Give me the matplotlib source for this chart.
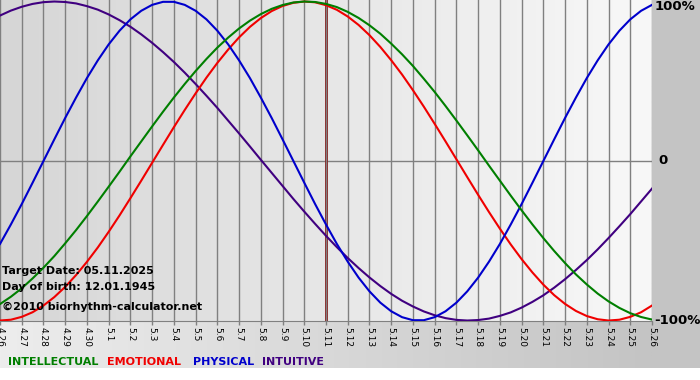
import numpy as np
import matplotlib
matplotlib.use('Agg')
import matplotlib.pyplot as plt
from matplotlib.colors import LinearSegmentedColormap
from matplotlib.patches import Rectangle

# dates shown on the x axis (one per day)
dates = ['4.26', '4.27', '4.28', '4.29', '4.30'] + ['5.%d' % i for i in range(1, 27)]
target_idx = 15  # 5.11

# biorhythm values in %, every half day (day 0 = 4.26)
sample_days = [i / 2 for i in range(61)]
intellectual = [-89.7, -85.1, -79.8, -73.6, -66.9, -59.6, -51.6, -43.3, -34.5, -25.4,
                -16.1, -6.7, 2.9, 12.3, 21.7, 30.9, 39.8, 48.3, 56.4, 64.0,
                71.1, 77.4, 83.1, 88.0, 92.1, 95.4, 97.8, 99.4, 100.0, 99.7,
                98.5, 96.5, 93.5, 89.7, 85.1, 79.8, 73.6, 66.9, 59.6, 51.6,
                43.3, 34.5, 25.4, 16.1, 6.7, -2.9, -12.3, -21.7, -30.9, -39.8,
                -48.3, -56.4, -64.0, -71.1, -77.4, -83.1, -88.0, -92.1, -95.4, -97.8,
                -99.4]
emotional = [-100.0, -99.5, -97.7, -94.8, -90.6, -85.3, -78.9, -71.5, -63.2, -54.2,
             -44.4, -34.1, -23.3, -12.3, -1.1, 10.1, 21.2, 32.0, 42.4, 52.3,
             61.5, 69.9, 77.5, 84.1, 89.6, 94.0, 97.2, 99.2, 100.0, 99.5,
             97.7, 94.8, 90.6, 85.3, 78.9, 71.5, 63.2, 54.2, 44.4, 34.1,
             23.3, 12.3, 1.1, -10.1, -21.2, -32.0, -42.4, -52.3, -61.5, -69.9,
             -77.5, -84.1, -89.6, -94.0, -97.2, -99.2, -100.0, -99.5, -97.7, -94.8,
             -90.6]
physical = [-52.0, -39.8, -27.0, -13.6, 0.0, 13.6, 27.0, 39.8, 52.0, 63.1,
            73.1, 81.7, 88.8, 94.2, 97.9, 99.8, 99.8, 97.9, 94.2, 88.8,
            81.7, 73.1, 63.1, 52.0, 39.8, 27.0, 13.6, 0.0, -13.6, -27.0,
            -39.8, -52.0, -63.1, -73.1, -81.7, -88.8, -94.2, -97.9, -99.8, -99.8,
            -97.9, -94.2, -88.8, -81.7, -73.1, -63.1, -52.0, -39.8, -27.0, -13.6,
            0.0, 13.6, 27.0, 39.8, 52.0, 63.1, 73.1, 81.7, 88.8, 94.2,
            97.9]
intuitive = [91.2, 94.3, 96.7, 98.5, 99.6, 100.0, 99.7, 98.8, 97.1, 94.9,
             91.9, 88.3, 84.2, 79.4, 74.1, 68.3, 62.1, 55.4, 48.3, 40.9,
             33.3, 25.3, 17.3, 9.1, 0.8, -7.4, -15.6, -23.8, -31.7, -39.4,
             -46.9, -54.0, -60.8, -67.1, -73.0, -78.4, -83.3, -87.6, -91.2, -94.3,
             -96.7, -98.5, -99.6, -100.0, -99.7, -98.8, -97.1, -94.9, -91.9, -88.3,
             -84.2, -79.4, -74.1, -68.3, -62.1, -55.4, -48.3, -40.9, -33.3, -25.3,
             -17.3]

series = [
    ('INTUITIVE', intuitive, '#400080'),
    ('EMOTIONAL', emotional, '#f00000'),
    ('PHYSICAL', physical, '#0000cc'),
    ('INTELLECTUAL', intellectual, '#007f00'),
]

W, H = 700, 380
fig = plt.figure(figsize=(7, 3.8), dpi=100)
fig.patch.set_facecolor('white')

# background panel in pixel coords
bg = fig.add_axes([0, 0, 1, 1], zorder=0)
grad = np.linspace(0, 1, 256).reshape(1, -1)
band_cmap = LinearSegmentedColormap.from_list('band', ['#ededed', '#c4c4c4'])
bg.imshow(grad, extent=[0, 652, 368, 321], aspect='auto', cmap=band_cmap)
bg.add_patch(Rectangle((652, 0), 48, 368, color='#c4c4c4', lw=0))
bg.set_xlim(0, W)
bg.set_ylim(H, 0)
bg.axis('off')

# main plot area
ax = fig.add_axes([0, 59 / H, 652 / W, 321 / H], zorder=1)
plot_cmap = LinearSegmentedColormap.from_list('plotbg', ['#d6d6d6', '#f8f8f8'])
ymin, ymax = -100.3, 100.95
ax.imshow(grad, extent=[0, 30, ymin, ymax], aspect='auto', cmap=plot_cmap, zorder=0)

days = np.arange(len(dates))
ax.set_xticks(days)
ax.set_xticklabels(dates, rotation=-90, fontsize=6.5)
ax.tick_params(axis='x', length=3, width=1, color='#808080', pad=1.5)
ax.set_yticks([])
ax.grid(axis='x', color='#808080', lw=1)
ax.set_axisbelow(False)
ax.axhline(0, color='#808080', lw=1, zorder=1)
ax.axvline(target_idx, color='#861010', lw=2, zorder=2)

for name, vals, col in series:
    ax.plot(sample_days, vals, color=col, lw=1.5, zorder=3)

for s in ['top', 'left', 'right']:
    ax.spines[s].set_visible(False)
ax.spines['bottom'].set_color('#808080')
ax.set_xlim(0, 30)
ax.set_ylim(ymin, ymax)


def ftext(x, y, s, **kw):
    fig.text(x / W, 1 - y / H, s, **kw)


# info text
info = dict(fontsize=8, fontweight='bold', color='black', va='center', ha='left', zorder=5)
ftext(2, 271, 'Target Date: 05.11.2025', **info)
ftext(2, 287, 'Day of birth: 12.01.1945', **info)
ftext(2, 307, '\u00a92010 biorhythm-calculator.net', **info)

# right-side scale labels
scale = dict(fontsize=9.5, fontweight='bold', color='black', va='center', ha='left', zorder=5)
ftext(655, 6, '100%', **scale)
ftext(658, 161, '0', **scale)
ftext(654, 321, '-100%', **scale)

# legend words
leg = dict(fontsize=8, fontweight='bold', va='center', ha='left', zorder=5)
ftext(8, 362, 'INTELLECTUAL', color='#007f00', **leg)
ftext(107, 362, 'EMOTIONAL', color='#f00000', **leg)
ftext(193, 362, 'PHYSICAL', color='#0000cc', **leg)
ftext(262, 362, 'INTUITIVE', color='#400080', **leg)

fig.savefig('out.png', dpi=100)
